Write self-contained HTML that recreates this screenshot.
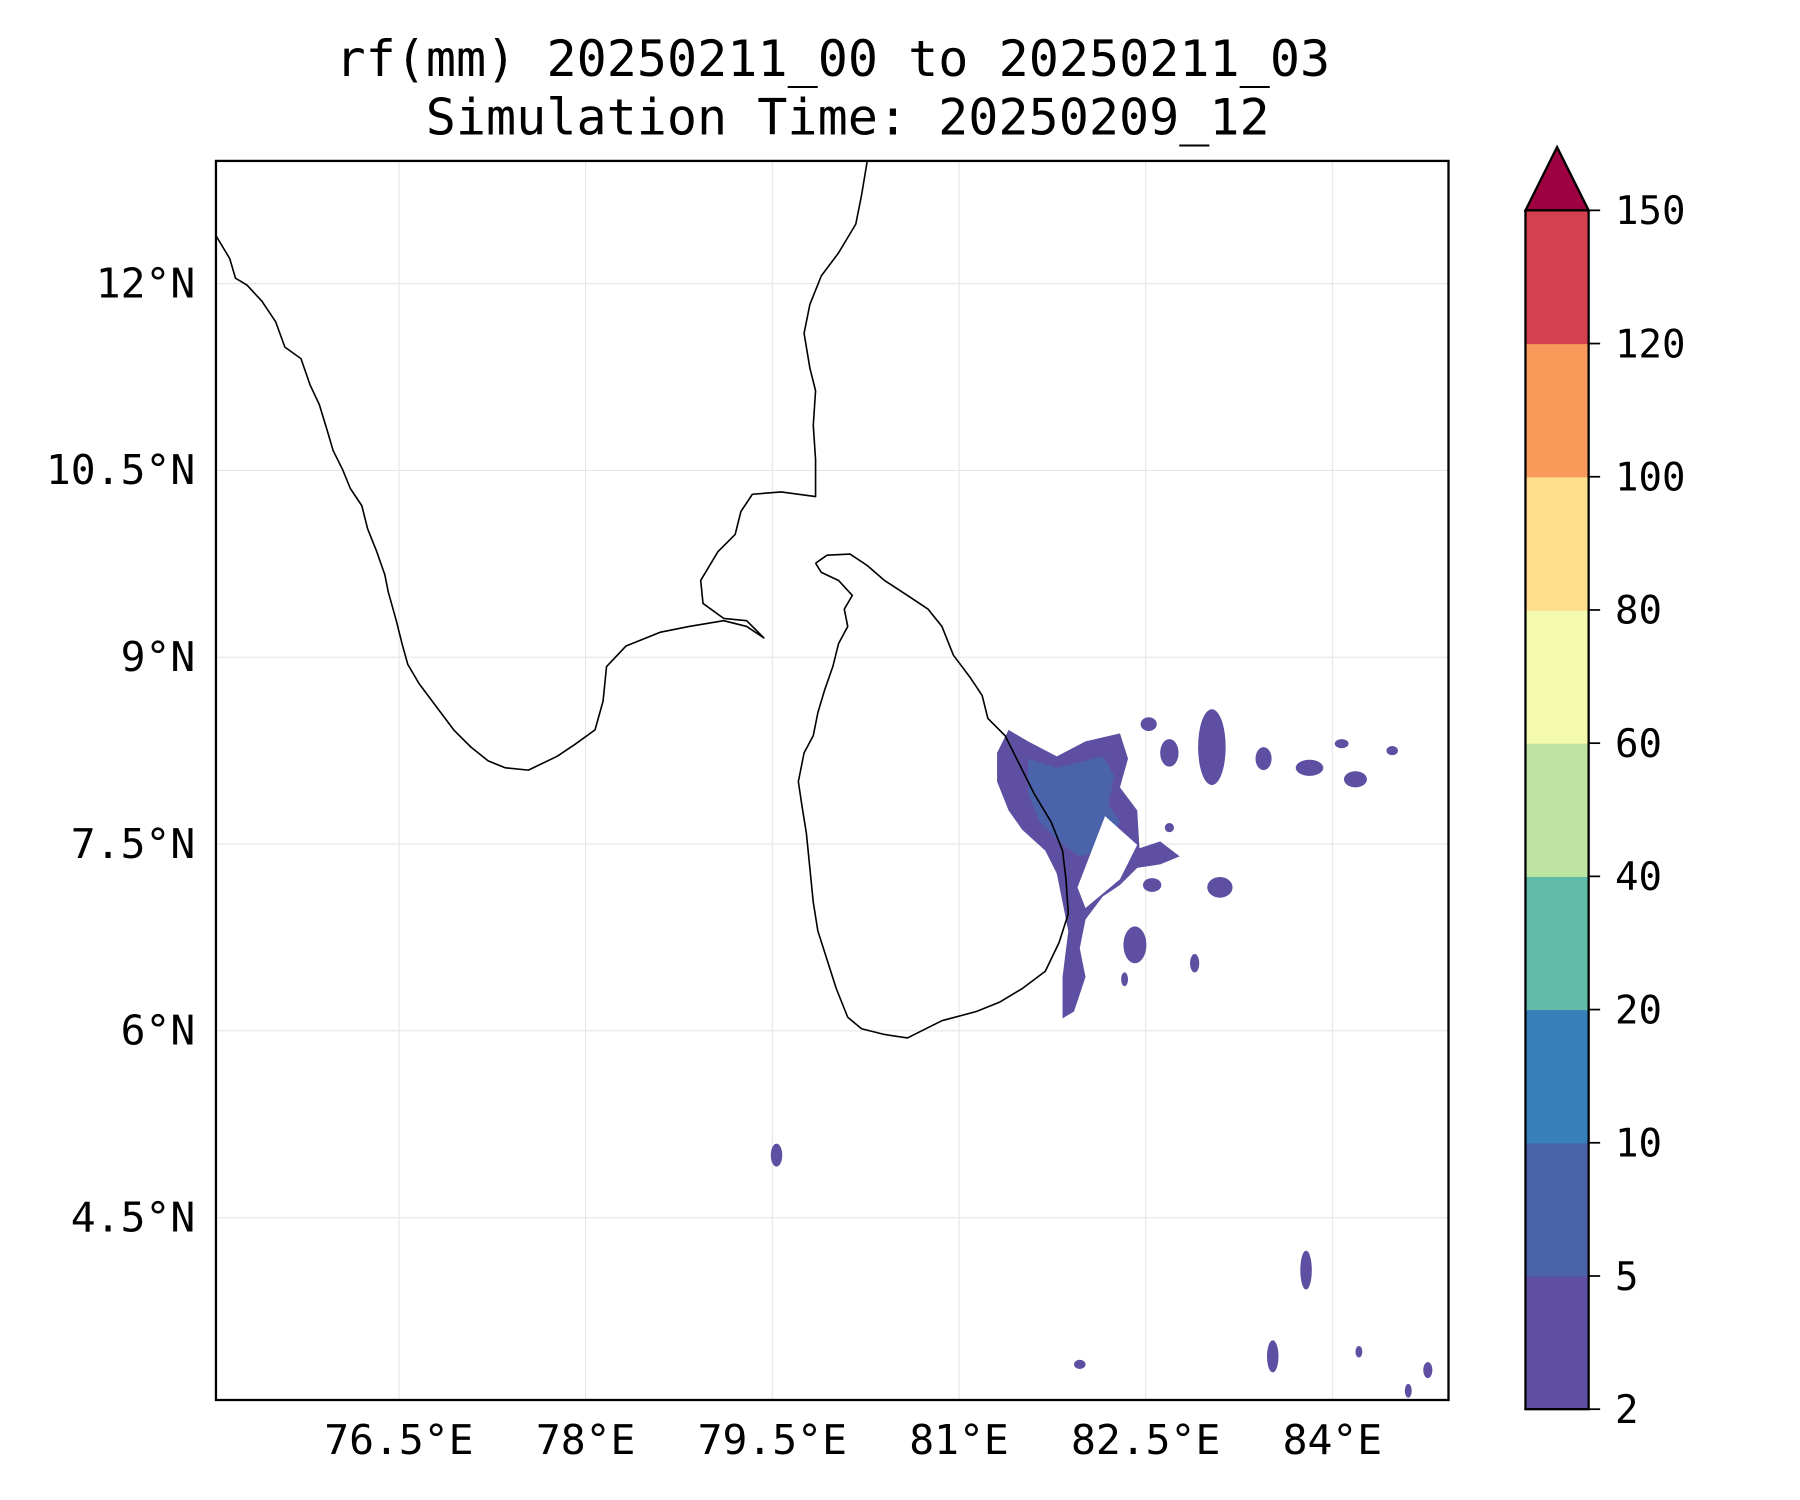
<!DOCTYPE html>
<html><head><meta charset="utf-8"><style>
html,body{margin:0;padding:0;background:#fff;}
svg{display:block;}
text{font-family:"DejaVu Sans Mono","Liberation Mono",monospace;fill:#000;}
</style></head><body>
<svg id="chart" width="1800" height="1500" viewBox="0 0 1567 1305" preserveAspectRatio="none" xmlns="http://www.w3.org/2000/svg">
<rect width="1567" height="1305" fill="#fff"/>
<text x="725" y="66" font-size="43.6" text-anchor="middle">rf(mm) 20250211_00 to 20250211_03</text>
<text x="738" y="117" font-size="43.6" text-anchor="middle">Simulation Time: 20250209_12</text>
<g id="grid"></g>
<g id="rain"></g>
<g id="coast"></g>
<rect x="188" y="140" width="1073" height="1078" fill="none" stroke="#000" stroke-width="2"/>
<g id="ticks"></g>
<g id="cbar"></g>
</svg>
<script>
// Map extents (degrees)
const lonRange = [75.03, 84.93];
const latRange = [3.0, 12.985];
const lonTicks = [76.5, 78, 79.5, 81, 82.5, 84];
const lonTickLabels = ["76.5°E", "78°E", "79.5°E", "81°E", "82.5°E", "84°E"];
const latTicks = [12, 10.5, 9, 7.5, 6, 4.5];
const latTickLabels = ["12°N", "10.5°N", "9°N", "7.5°N", "6°N", "4.5°N"];
// Colorbar
const cbLevels = [2, 5, 10, 20, 40, 60, 80, 100, 120, 150];
const cbColors = ["#5e4fa2", "#4a63ab", "#3880b9", "#61bba9", "#bde4a0", "#f4faad", "#fddf8b", "#fa9a5a", "#d53f50"];
const cbExtendColor = "#9e0142";

const ax = {x0:188, x1:1261, y0:140, y1:1218};
const pxDeg = 108.35;
function xS(lon){ return ax.x0 + (lon - lonRange[0]) * pxDeg; }
function yS(lat){ return ax.y0 + (latRange[1] - lat) * pxDeg; }
const NS = "http://www.w3.org/2000/svg";
function mk(tag, attrs, parent){ const e=document.createElementNS(NS,tag); for(const k in attrs) e.setAttribute(k,attrs[k]); parent.appendChild(e); return e; }

const grid = document.getElementById('grid');
lonTicks.forEach((v,i)=>{
  const l = mk('line',{x1:xS(v),x2:xS(v),y1:ax.y0,y2:ax.y1,stroke:'#e6e6e6','stroke-width':1},grid);
  
  
});
latTicks.forEach((v,i)=>{
  const l = mk('line',{x1:ax.x0,x2:ax.x1,y1:yS(v),y2:yS(v),stroke:'#e6e6e6','stroke-width':1},grid);
  
  
});
const ticks = document.getElementById('ticks');
lonTicks.forEach((v,i)=>{
  const t = mk('text',{x:xS(v),y:1265,'font-size':36,'text-anchor':'middle'},ticks);
  t.textContent = lonTickLabels[i];
  
  
});
latTicks.forEach((v,i)=>{
  const t = mk('text',{x:170,y:yS(v)+12,'font-size':36,'text-anchor':'end'},ticks);
  t.textContent = latTickLabels[i];
  
  
});

// Coastlines (screen reference coordinates of geographic outline)
const indiaWest = [[188,205],[200,225],[205,242],[215,248],[228,262],[240,280],[248,302],[262,312],[270,335],[278,352],[285,375],[290,392],[298,408],[305,425],[315,440],[320,460],[328,480],[335,500],[338,515],[345,540],[350,560],[355,578],[365,595],[380,615],[395,635],[410,650],[425,662],[440,668],[460,670],[485,658],[500,648],[518,635],[525,610],[528,580],[545,562],[575,550],[600,545],[630,540],[650,545],[665,555],[650,540],[630,538],[612,525],[610,505],[625,480],[640,465],[645,445],[655,430],[680,428],[710,432],[710,400],[708,370],[710,340],[705,320],[700,290],[705,265],[715,240],[730,220],[745,195],[750,170],[755,140]];
const sriLanka = [[710,490],[720,483],[740,482],[755,492],[770,505],[790,518],[808,530],[820,545],[830,570],[845,590],[855,605],[860,625],[875,640],[885,660],[900,690],[915,715],[925,740],[928,765],[930,795],[922,820],[910,845],[890,860],[870,872],[850,880],[820,888],[800,898],[790,903],[770,900],[750,895],[738,885],[728,860],[720,835],[712,810],[708,785],[705,755],[702,725],[698,700],[695,680],[700,655],[708,640],[712,620],[718,600],[725,580],[730,560],[738,545],[735,530],[742,518],[730,505],[715,498],[710,490]];

// Rainfall shapes
const rainOuter = [[878,635],[895,645],[920,658],[945,645],[975,638],[982,660],[975,685],[990,705],[992,738],[1010,732],[1027,745],[1010,752],[990,755],[975,770],[960,780],[945,800],[940,825],[945,850],[935,880],[925,886],[925,850],[930,810],[925,785],[920,760],[910,740],[890,722],[878,705],[868,680],[868,655]];
const rainInner = [[895,660],[920,668],[960,658],[970,675],[965,700],[975,715],[960,740],[940,745],[925,735],[905,715],[895,690]];
const rainHole = [[938,772],[962,710],[990,735],[975,765],[945,790]];
const rainSpots = [[1000,630,7,6],[1018,655,8,12],[1055,650,12,33],[1003,770,8,6],[1062,772,11,9],[988,822,10,16],[1040,838,4,8],[1100,660,7,10],[1140,668,12,7],[1168,647,6,4],[1180,678,10,7],[1212,653,5,4],[676,1005,5,10],[1137,1105,5,17],[1108,1180,5,14],[1243,1192,4,7],[1226,1210,3,6],[1183,1176,3,5],[940,1187,5,4],[1018,720,4,4],[979,852,3,6]];

const rain = document.getElementById('rain');
function poly(pts){ return pts.map(p=>p.join(',')).join(' '); }
let p = mk('polygon',{points:poly(rainOuter),fill:cbColors[0]},rain);


p = mk('polygon',{points:poly(rainInner),fill:cbColors[1]},rain);


p = mk('polygon',{points:poly(rainHole),fill:'#fff'},rain);


rainSpots.forEach(s=>{
  const e = mk('ellipse',{cx:s[0],cy:s[1],rx:s[2],ry:s[3],fill:cbColors[0]},rain);
  
  
});

const coast = document.getElementById('coast');
[indiaWest, sriLanka].forEach((c,i)=>{
  const l = mk('polyline',{points:poly(c),fill:'none',stroke:'#000','stroke-width':1.4,'stroke-linejoin':'round'},coast);
  
  
});

// Colorbar
const cb = document.getElementById('cbar');
const cbX0 = 1328, cbX1 = 1383, cbTop = 183, cbBot = 1226, tipY = 128;
const n = cbLevels.length - 1;
function cbY(i){ return cbBot - i * (cbBot - cbTop) / n; }
for(let i=0;i<n;i++){
  const r = mk('rect',{x:cbX0,y:cbY(i+1),width:cbX1-cbX0,height:cbY(i)-cbY(i+1)+0.5,fill:cbColors[i]},cb);
  
  
}
let tip = mk('polygon',{points:`${cbX0},${cbTop} ${(cbX0+cbX1)/2},${tipY} ${cbX1},${cbTop}`,fill:cbExtendColor,stroke:'#000','stroke-width':2,'stroke-linejoin':'miter'},cb);


let fr = mk('rect',{x:cbX0,y:cbTop,width:cbX1-cbX0,height:cbBot-cbTop,fill:'none',stroke:'#000','stroke-width':2},cb);


cbLevels.forEach((v,i)=>{
  const y = cbY(i);
  const l = mk('line',{x1:cbX1,x2:cbX1+10,y1:y,y2:y,stroke:'#000','stroke-width':1.5},cb);
  
  
  const t = mk('text',{x:1406,y:y+12,'font-size':34},cb);
  t.textContent = String(v);
  
  
});
</script>
</body></html>
